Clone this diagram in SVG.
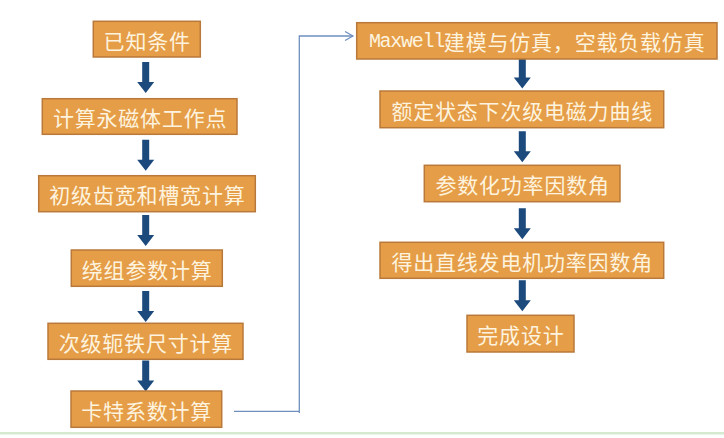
<svg xmlns="http://www.w3.org/2000/svg" width="724" height="438" viewBox="0 0 724 438">
<style>
.box{fill:#e59d48;stroke:#b9793a;stroke-width:1.5}
.t{font-family:"Noto Sans CJK SC","Noto Sans CJK JP",sans-serif;font-size:21px;letter-spacing:0.8px;fill:#fdf3df;text-anchor:middle;dominant-baseline:central}
.m{font-family:"Liberation Mono","DejaVu Sans Mono",monospace;font-size:20px;letter-spacing:-1.3px}
.arr{fill:#1c4a7d}
.conn{fill:none;stroke:#6f8fbd;stroke-width:1.3}
</style>
<defs>
<marker id="open" markerWidth="12" markerHeight="12" refX="9" refY="5" orient="auto" markerUnits="userSpaceOnUse">
<path d="M1,0.5 L9,5 L1,9.5" fill="none" stroke="#6f8fbd" stroke-width="1.2"/>
</marker>
<path id="dn" d="M-3.5,0 H3.5 V20 H8.5 L0,31 L-8.5,20 H-3.5 Z"/>
</defs>
<rect x="0" y="432" width="724" height="2.5" fill="#d5e9d0"/>
<g id="connectors">
<use href="#dn" class="arr" x="145.7" y="62"/>
<use href="#dn" class="arr" x="145.7" y="139.7"/>
<use href="#dn" class="arr" x="145.7" y="215"/>
<use href="#dn" class="arr" x="145.7" y="291"/>
<use href="#dn" class="arr" x="145.7" y="360.5"/>
<use href="#dn" class="arr" x="522.3" y="57.5"/>
<use href="#dn" class="arr" x="522.3" y="131.3"/>
<use href="#dn" class="arr" x="522.3" y="208.3"/>
<use href="#dn" class="arr" x="522.3" y="280.3"/>
<path class="conn" d="M234,411.3 H299.3 V413 M299.3,413 V36 H353" marker-end="url(#open)"/>
</g>
<g id="n1"><rect class="box" x="93.3" y="21.3" width="107" height="35.7"/><text class="t" x="147.2" y="39.5">已知条件</text></g>
<g id="n2"><rect class="box" x="42.3" y="98.7" width="194.7" height="35.6"/><text class="t" x="140.1" y="117">计算永磁体工作点</text></g>
<g id="n3"><rect class="box" x="38.7" y="175.7" width="216.6" height="36"/><text class="t" x="147.4" y="194">初级齿宽和槽宽计算</text></g>
<g id="n4"><rect class="box" x="71.3" y="250" width="151" height="36.3"/><text class="t" x="147.2" y="268.5">绕组参数计算</text></g>
<g id="n5"><rect class="box" x="48" y="323.3" width="195" height="36"/><text class="t" x="145.9" y="341.5">次级轭铁尺寸计算</text></g>
<g id="n6"><rect class="box" x="71" y="391" width="150.7" height="36.3"/><text class="t" x="146.7" y="409.5">卡特系数计算</text></g>
<g id="n7"><rect class="box" x="356.7" y="22.7" width="360.3" height="36.3"/><text class="t" x="537.2" y="41"><tspan class="m">Maxwell</tspan>建模与仿真，空载负载仿真</text></g>
<g id="n8"><rect class="box" x="380" y="91" width="283.7" height="36.7"/><text class="t" x="522.2" y="109.5">额定状态下次级电磁力曲线</text></g>
<g id="n9"><rect class="box" x="424.3" y="165.3" width="195.7" height="36.4"/><text class="t" x="522.6" y="183.7">参数化功率因数角</text></g>
<g id="n10"><rect class="box" x="380" y="242.3" width="283.7" height="36"/><text class="t" x="522.2" y="260.5">得出直线发电机功率因数角</text></g>
<g id="n11"><rect class="box" x="467" y="315.3" width="107" height="36.7"/><text class="t" x="520.9" y="333.8">完成设计</text></g>
</svg>
